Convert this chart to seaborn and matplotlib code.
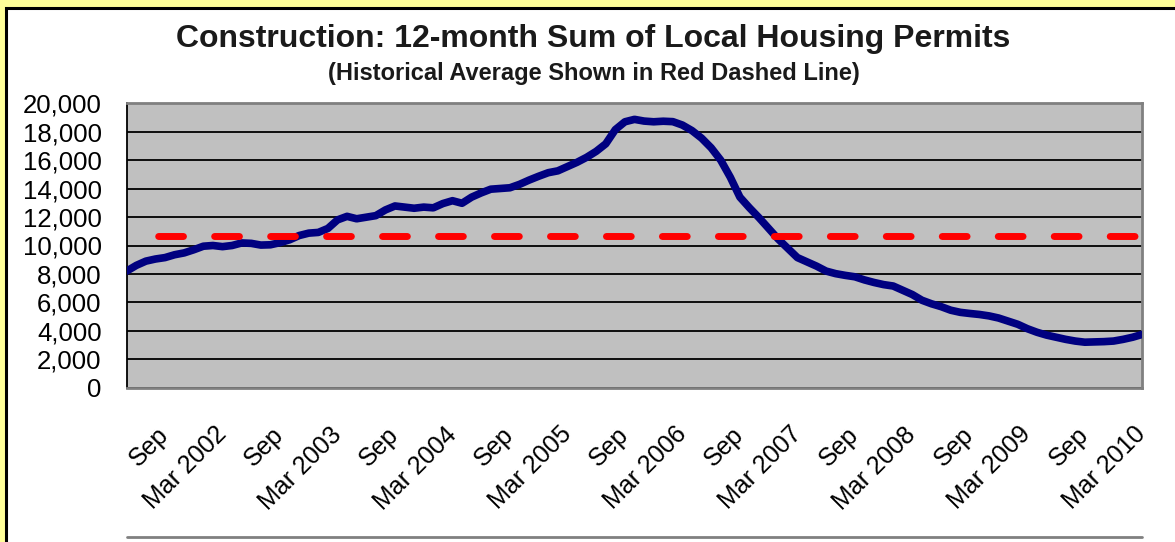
import pandas as pd
import matplotlib
matplotlib.use("Agg")
import matplotlib.pyplot as plt
from matplotlib.patches import Rectangle
from matplotlib.lines import Line2D
import seaborn as sns

# monthly 12-month sums, May 2001 .. Mar 2010
permits = [
    8200, 8600, 8900, 9050, 9150, 9350, 9480, 9700, 9950, 10000,
    9920, 10000, 10180, 10150, 10030, 10050, 10200, 10400, 10700, 10870,
    10920, 11200, 11800, 12050, 11880, 11990, 12100, 12500, 12780, 12700,
    12620, 12700, 12650, 12950, 13150, 12970, 13400, 13700, 13960, 14010,
    14060, 14300, 14600, 14870, 15120, 15250, 15550, 15850, 16200, 16620,
    17150, 18150, 18700, 18870, 18750, 18700, 18740, 18710, 18470, 18080,
    17550, 16870, 16000, 14800, 13400, 12650, 11950, 11200, 10450, 9800,
    9150, 8850, 8550, 8200, 8020, 7900, 7800, 7580, 7400, 7250,
    7150, 6850, 6550, 6150, 5900, 5700, 5450, 5300, 5220, 5150,
    5050, 4900, 4680, 4460, 4150, 3900, 3700, 3550, 3400, 3280,
    3200, 3220, 3240, 3280, 3400, 3550, 3750,
]
hist_avg = 10700

months = pd.date_range("2001-05-01", periods=len(permits), freq="MS")
df = pd.DataFrame({"month": range(len(permits)), "permits": permits})

tick_labels = ["Sep", "Mar 2002", "Sep", "Mar 2003", "Sep", "Mar 2004",
               "Sep", "Mar 2005", "Sep", "Mar 2006", "Sep", "Mar 2007",
               "Sep", "Mar 2008", "Sep", "Mar 2009", "Sep", "Mar 2010"]
label_pos = [i for i, m in enumerate(months) if m.month in (3, 9)]
minor_pos = [i for i, m in enumerate(months) if m.month in (6, 12)]

sns.set_theme(style="white")
plt.rcParams["font.family"] = ["Liberation Sans", "DejaVu Sans"]

fig = plt.figure(figsize=(11.75, 5.42), dpi=100)
fig.patch.set_facecolor("#FFFF99")

# white panel with black frame
fig.add_artist(Rectangle((5.5 / 1175, -0.2), 1.2, 1.2 - 8 / 542,
                         transform=fig.transFigure, facecolor="white",
                         edgecolor="black", lw=2.2, zorder=0))
fig.add_artist(Line2D([127 / 1175, 1142 / 1175], [1 - 537 / 542] * 2,
                      color="#808080", lw=2, transform=fig.transFigure))

ax = fig.add_axes([126.7 / 1175, 1 - 387.7 / 542, 1015.6 / 1175, 284.4 / 542])
ax.set_facecolor("#C0C0C0")

sns.lineplot(data=df, x="month", y="permits", color="#000080", lw=5.5,
             ax=ax, zorder=3)
ax.axhline(hist_avg, color="#FF0000", lw=5, solid_capstyle="round",
           dash_capstyle="round", linestyle=(3.57, (3.57, 4.49)), zorder=4)

ax.set_xlim(0, len(permits) - 1)
ax.set_ylim(0, 20000)
ax.set_yticks(range(0, 20001, 2000))
ax.set_yticklabels([f"{v:,}" for v in range(0, 20001, 2000)])
ax.yaxis.grid(True, color="black", lw=1.3)
ax.set_axisbelow(True)

ax.set_xticks(label_pos)
ax.set_xticklabels(tick_labels, rotation=45, ha="right", va="center",
                   rotation_mode="anchor")
ax.set_xticks(minor_pos, minor=True)
ax.tick_params(axis="x", which="both", direction="out", length=5,
               width=1.3, color="#808080", pad=26, labelsize=18,
               labelcolor="black")
ax.tick_params(axis="y", direction="out", length=7, width=1.3,
               color="#808080", pad=11, labelsize=18.5, labelcolor="black")
ax.set_xlabel("")
ax.set_ylabel("")

for side in ["top", "right", "bottom"]:
    ax.spines[side].set_color("#808080")
    ax.spines[side].set_linewidth(2)
ax.spines["left"].set_color("black")
ax.spines["left"].set_linewidth(1.3)

fig.text(0.505, 1 - 39 / 542, "Construction: 12-month Sum of Local Housing Permits",
         ha="center", va="center", fontsize=23, fontweight="bold", color="#1a1a1a")
fig.text(0.505, 1 - 73 / 542, "(Historical Average Shown in Red Dashed Line)",
         ha="center", va="center", fontsize=17, fontweight="bold", color="#1a1a1a")

fig.savefig("out.png", dpi=100)
